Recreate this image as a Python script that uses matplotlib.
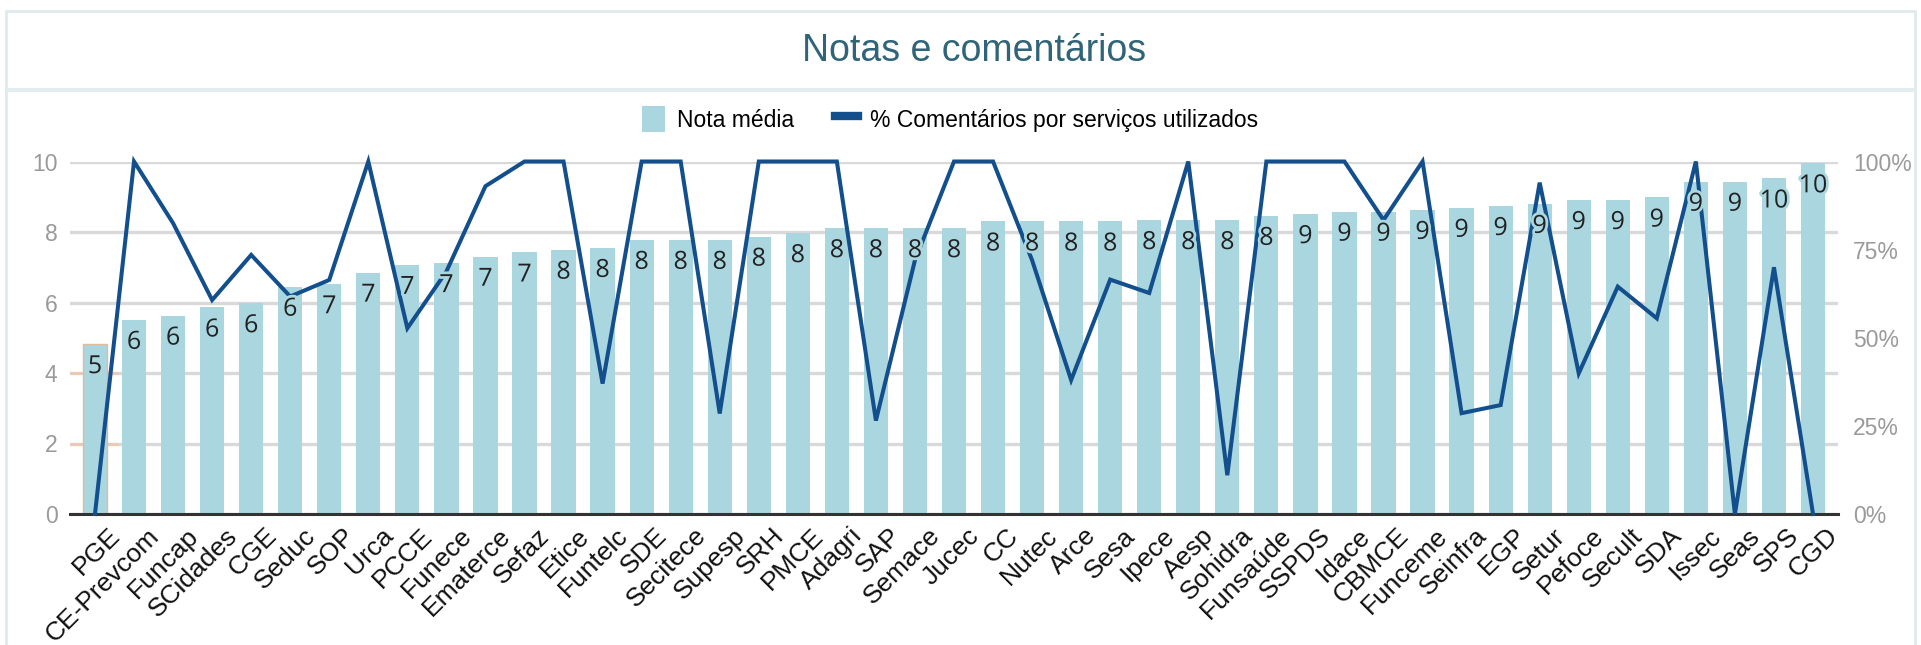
import matplotlib
matplotlib.use("Agg")
import matplotlib.pyplot as plt
import matplotlib.patheffects as pe
import matplotlib.transforms as mtransforms
from matplotlib.lines import Line2D
from matplotlib.patches import Patch, Rectangle
import numpy as np

orgaos = [
    "PGE", "CE-Prevcom", "Funcap", "SCidades", "CGE", "Seduc", "SOP", "Urca",
    "PCCE", "Funece", "Ematerce", "Sefaz", "Etice", "Funtelc", "SDE", "Secitece",
    "Supesp", "SRH", "PMCE", "Adagri", "SAP", "Semace", "Jucec", "CC", "Nutec",
    "Arce", "Sesa", "Ipece", "Aesp", "Sohidra", "Funsaúde", "SSPDS", "Idace",
    "CBMCE", "Funceme", "Seinfra", "EGP", "Setur", "Pefoce", "Secult", "SDA",
    "Issec", "Seas", "SPS", "CGD",
]
nota_media = [
    4.82, 5.51, 5.63, 5.86, 5.98, 6.45, 6.52, 6.85, 7.07, 7.12, 7.30, 7.42,
    7.50, 7.55, 7.78, 7.78, 7.78, 7.87, 7.97, 8.11, 8.11, 8.11, 8.11, 8.30,
    8.30, 8.30, 8.30, 8.34, 8.34, 8.34, 8.46, 8.51, 8.58, 8.58, 8.63, 8.69,
    8.74, 8.80, 8.91, 8.91, 8.98, 9.43, 9.43, 9.52, 9.95,
]
pct_comentarios = [
    0, 100, 82.5, 60.7, 73.5, 61.7, 66.4, 100, 52.7, 68.8, 93, 100,
    100, 37, 100, 100, 28.5, 100, 100, 100, 26.5, 72, 100, 100,
    72, 38, 66.5, 62.7, 100, 11, 100, 100, 100, 83.4, 100, 28.6,
    30.9, 94, 39.9, 64.5, 55.5, 100, 0, 70, 0,
]
pct_ticks = [0, 25, 50, 75, 100]

BAR = "#a9d6df"
LINE = "#124f8c"
GRID = "#d9d9d9"
GRAY = "#9a9a9a"
TITLE = "#2f6479"

plt.rcParams["font.family"] = ["Liberation Sans", "DejaVu Sans"]

W, H = 1921, 645
fig = plt.figure(figsize=(W / 100, H / 100), dpi=100)

# panel frame, title and separator
fig.patches.append(Rectangle((6 / W, -0.05), 1909 / W, 1.05 - 11 / H,
                             transform=fig.transFigure, fill=False,
                             edgecolor="#dfeaed", linewidth=2))
fig.patches.append(Rectangle((6 / W, 1 - 92 / H), 1909 / W, 4 / H,
                             transform=fig.transFigure, facecolor="#e2edf0",
                             edgecolor="none"))
fig.text(974 / W, 1 - 51 / H, "Notas e comentários", ha="center", va="center",
         fontsize=27, color=TITLE)

ax = fig.add_axes([70 / W, 131 / H, 1768 / W, 352.5 / H])
x = np.arange(len(orgaos))

bars = ax.bar(x, nota_media, width=0.62, color=BAR, zorder=2)
bars[0].set_edgecolor("#e6b89c")
bars[0].set_linewidth(1)
ax.hlines([2, 4], -0.64, 0.6, color="#ecc9b0", linewidth=2, zorder=1)

ax.set_xlim(-0.64, len(orgaos) - 1 + 0.64)
ax.set_ylim(0, 10)
ax.set_yticks(range(0, 11, 2))
ax.grid(axis="y", color=GRID, linewidth=2.4, zorder=0)
ax.set_axisbelow(True)
for s in ["top", "left", "right"]:
    ax.spines[s].set_visible(False)
ax.spines["bottom"].set_color("#333333")
ax.spines["bottom"].set_linewidth(2.2)
ax.spines["bottom"].set_zorder(3)
ax.tick_params(axis="y", length=0, pad=9, labelsize=16.5, labelcolor=GRAY)
ax.tick_params(axis="x", length=0, pad=4)
ax.set_xticks(x)
ax.set_xticklabels(orgaos, rotation=45, ha="right", va="top",
                   rotation_mode="anchor", fontsize=19, color="#111111")
shift = mtransforms.ScaledTranslation(0.13, -0.04, fig.dpi_scale_trans)
for lab in ax.get_xticklabels():
    lab.set_transform(lab.get_transform() + shift)

ax2 = ax.twinx()
ax2.plot(x, pct_comentarios, color=LINE, linewidth=2.9, clip_on=False,
         solid_joinstyle="miter", zorder=3)
ax2.set_ylim(0, 100)
ax2.set_yticks(pct_ticks)
ax2.set_yticklabels([f"{v}%" for v in pct_ticks])
ax2.tick_params(axis="y", length=0, pad=11, labelsize=16.5, labelcolor=GRAY)
for s in ax2.spines.values():
    s.set_visible(False)

# rounded value labels inside the bars
for xi, v in zip(x, nota_media):
    ax2.text(xi, v - 0.64, str(int(v + 0.5)), transform=ax.transData,
             ha="center", va="center", fontsize=18, color="#222222",
             family=["Open Sans", "DejaVu Sans"], zorder=5,
             path_effects=[pe.withStroke(linewidth=4, foreground=BAR)])

handles = [
    Patch(facecolor=BAR, edgecolor="none", label="Nota média"),
    Line2D([], [], color=LINE, linewidth=6, label="% Comentários por serviços utilizados"),
]
fig.legend(handles=handles, loc="center", bbox_to_anchor=(950 / W, 1 - 119 / H),
           ncol=2, frameon=False, fontsize=16.5, handlelength=1.0,
           handleheight=1.4, columnspacing=1.8, handletextpad=0.5)

fig.savefig("out.png", dpi=100)
